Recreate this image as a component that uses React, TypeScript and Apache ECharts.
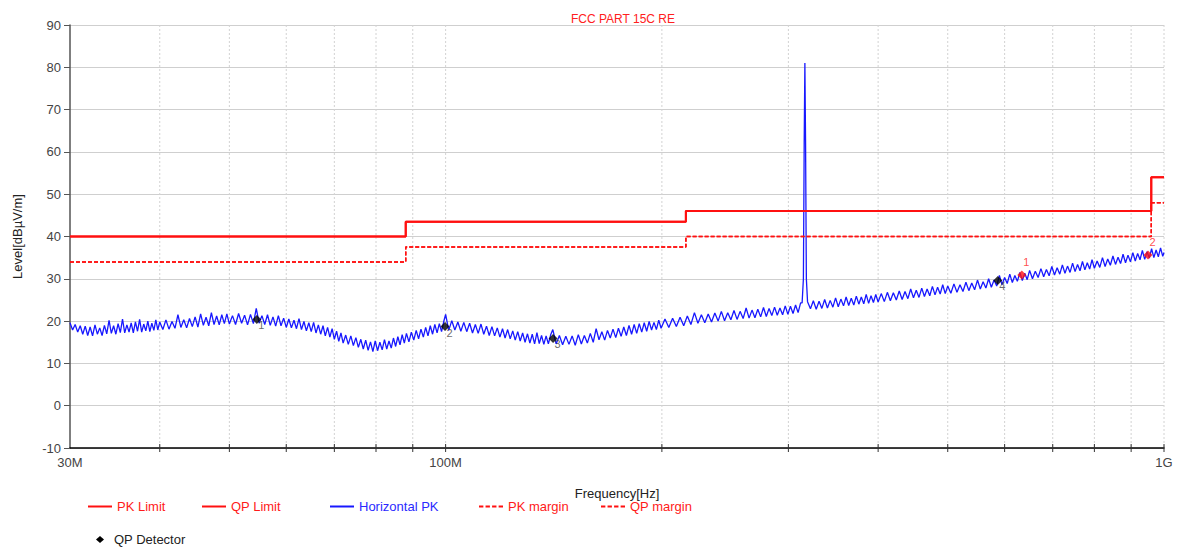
import React, { useEffect, useRef } from 'react';
import * as echarts from 'echarts';

const FONT = 'Liberation Sans, Arial, sans-serif';
const chartTitle = 'FCC PART 15C RE';
const yMin = -10;
const yMax = 90;
const yStep = 10;
const xMinMHz = 30;
const xMaxMHz = 1000;
const xTickValues = [30, 100, 1000];
const xTickLabels = ['30M', '100M', '1G'];
const gridFreqs = [40, 50, 60, 70, 80, 90, 100, 200, 300, 400, 500, 600, 700, 800, 900, 1000];

const limitEdges = [30, 88, 216, 960, 1000];
const pkLimit = [40, 43.5, 46, 54];
const qpLimit = [40, 43.5, 46, 54];
const pkMargin = [34, 37.5, 40, 48];
const qpMargin = [34, 37.5, 40, 48];

const horizontalPK: [number, number][] = [
  [30, 19.6], [30.25, 17.9], [30.5, 19.2], [30.75, 17.4], [31, 18.9], [31.25, 16.9], [31.5, 18.8], [31.75, 16.6], [32, 18.6], [32.25, 16.5],
  [32.5, 19.1], [32.75, 16.9], [33, 18.4], [33.25, 16.6], [33.5, 19.0], [33.75, 17.0], [34, 20.2], [34.25, 17.1], [34.5, 18.9], [34.75, 16.9],
  [35, 19.4], [35.25, 17.3], [35.5, 20.5], [35.75, 17.2], [36, 19.1], [36.25, 17.4], [36.5, 19.6], [36.75, 17.2], [37, 19.8], [37.25, 17.6],
  [37.5, 20.4], [37.75, 17.4], [38, 19.3], [38.25, 17.7], [38.5, 20.0], [38.75, 17.5], [39, 19.5], [39.25, 17.8], [39.5, 20.3], [39.75, 17.9],
  [40, 19.8], [40.4, 18.0], [40.8, 20.3], [41.2, 18.1], [41.6, 19.9], [42, 18.3], [42.4, 21.5], [42.8, 18.5], [43.2, 20.3], [43.6, 18.4],
  [44, 20.6], [44.4, 18.7], [44.8, 21.0], [45.2, 18.6], [45.6, 21.7], [46, 19.0], [46.4, 20.9], [46.8, 18.9], [47.2, 22.0], [47.6, 19.2],
  [48, 21.2], [48.4, 19.1], [48.8, 21.5], [49.2, 19.4], [49.6, 21.7], [50, 19.3], [50.5, 21.3], [51, 19.2], [51.5, 21.8], [52, 19.5],
  [52.5, 21.4], [53, 19.1], [53.5, 21.6], [54, 19.4], [54.5, 23.0], [55, 19.5], [55.5, 21.3], [56, 19.2], [56.5, 21.5], [57, 19.0],
  [57.5, 21.0], [58, 18.8], [58.5, 21.3], [59, 18.9], [59.5, 20.7], [60, 18.5], [60.5, 20.5], [61, 18.4], [61.5, 20.2], [62, 18.2],
  [62.5, 20.6], [63, 18.0], [63.5, 19.9], [64, 17.7], [64.5, 19.6], [65, 17.5], [65.5, 19.7], [66, 17.2], [66.5, 19.1], [67, 16.9],
  [67.5, 18.9], [68, 16.5], [68.5, 18.5], [69, 16.2], [69.5, 18.2], [70, 15.7], [70.5, 17.6], [71, 15.2], [71.5, 17.2], [72, 14.8],
  [72.6, 16.7], [73.2, 14.5], [73.8, 16.5], [74.4, 14.2], [75, 16.1], [75.6, 13.8], [76.2, 15.7], [76.8, 13.4], [77.4, 15.5], [78, 13.1],
  [78.6, 15.1], [79.2, 12.8], [79.8, 15.3], [80.4, 13.0], [81, 15.0], [81.6, 13.2], [82.2, 15.6], [82.8, 13.4], [83.4, 15.3], [84, 13.6],
  [84.6, 16.0], [85.2, 14.0], [85.8, 16.3], [86.4, 14.4], [87, 16.8], [87.6, 14.8], [88.2, 17.1], [88.9, 15.1], [89.6, 17.4], [90.3, 15.5],
  [91, 17.8], [91.7, 15.8], [92.4, 18.1], [93.1, 16.2], [93.8, 18.5], [94.5, 16.5], [95.2, 18.9], [95.9, 16.9], [96.6, 19.2], [97.3, 17.2],
  [98, 19.4], [98.7, 17.5], [99.4, 19.9], [100, 21.6], [101, 17.8], [102, 20.1], [103, 17.9], [104, 19.8], [105, 17.6], [106, 19.7],
  [107, 17.5], [108, 19.5], [109, 17.2], [110, 19.2], [111, 17.1], [112, 19.3], [113, 16.9], [114, 18.8], [115, 16.6], [116, 18.7],
  [117, 16.5], [118, 18.4], [119, 16.2], [120, 18.2], [121, 16.0], [122, 18.0], [123, 15.8], [124, 17.7], [125, 15.5], [126, 17.5],
  [127, 15.3], [128, 17.2], [129, 15.0], [130, 17.0], [131, 14.8], [132, 16.9], [133, 14.6], [134, 17.3], [135, 14.7], [136, 16.6],
  [137, 14.5], [138, 16.5], [139, 14.6], [140, 16.7], [141, 18.0], [142.5, 14.6], [144, 16.6], [145.5, 14.4], [147, 16.4], [148.5, 14.5],
  [150, 16.5], [151.5, 14.3], [153, 16.8], [154.5, 14.6], [156, 16.6], [157.5, 14.8], [159, 17.1], [160.5, 15.0], [162, 18.2], [163.5, 15.6],
  [165, 17.5], [166.5, 15.5], [168, 17.8], [169.5, 16.0], [171, 18.1], [172.5, 16.1], [174, 18.3], [175.5, 16.4], [177, 18.6], [178.5, 16.6],
  [180, 19.0], [181.5, 16.9], [183, 19.2], [184.5, 17.1], [186, 19.4], [187.5, 17.4], [189, 19.6], [190.5, 17.6], [192, 19.9], [193.5, 17.9],
  [195, 19.7], [196.5, 18.0], [198, 20.2], [199.5, 18.3], [202, 20.5], [204.5, 18.5], [207, 20.7], [209.5, 18.7], [212, 20.9], [214.5, 18.9],
  [217, 21.2], [219.5, 19.2], [222, 22.0], [224.5, 19.5], [227, 21.5], [229.5, 19.6], [232, 21.7], [234.5, 19.8], [237, 21.9], [239.5, 20.0],
  [242, 22.3], [244.5, 20.1], [247, 22.0], [249.5, 20.3], [252, 22.5], [254.5, 20.4], [257, 22.3], [259.5, 20.6], [262, 23.1], [264.5, 20.7],
  [267, 22.6], [269.5, 20.8], [272, 22.8], [274.5, 21.0], [277, 23.2], [279.5, 21.1], [282, 23.0], [284.5, 21.3], [287, 23.3], [289.5, 21.4],
  [292, 23.1], [294.5, 21.5], [297, 23.6], [299.5, 21.6], [302, 23.5], [304.5, 21.8], [307, 23.8], [309.5, 22.0], [312, 24.3], [313.5, 24.3],
  [314.8, 30], [315.6, 62], [316.3, 81], [317, 62], [317.8, 30], [319, 24.6],
  [322, 22.9], [325, 24.8], [328, 22.8], [331, 24.7], [334, 23.0], [337, 25.1], [340, 23.1], [343, 24.9], [346, 23.3], [349, 25.5],
  [352, 23.4], [355, 25.2], [358, 23.6], [361, 25.7], [364, 23.7], [367, 25.4], [370, 23.8], [373, 25.9], [376, 24.0], [379, 25.7],
  [382, 24.1], [385, 26.3], [388, 24.2], [391, 26.0], [394, 24.4], [397, 26.3], [400, 24.5], [404, 26.5], [408, 24.6], [412, 26.8],
  [416, 24.8], [420, 26.7], [424, 25.0], [428, 27.1], [432, 25.1], [436, 27.0], [440, 25.3], [444, 27.6], [448, 25.5], [452, 27.3],
  [456, 25.6], [460, 27.8], [464, 25.8], [468, 27.6], [472, 26.0], [476, 28.2], [480, 26.2], [484, 28.0], [488, 26.4], [492, 28.6],
  [496, 26.5], [500, 28.3], [505, 26.6], [510, 28.8], [515, 26.8], [520, 28.6], [525, 27.0], [530, 29.2], [535, 27.2], [540, 29.0],
  [545, 27.4], [550, 29.7], [555, 27.6], [560, 29.3], [565, 27.8], [570, 30.0], [575, 28.0], [580, 29.7], [585, 28.3], [590, 30.8],
  [595, 28.6], [600, 30.3], [605, 28.9], [610, 31.1], [615, 29.1], [620, 30.8], [625, 29.4], [630, 31.5], [635, 29.6], [640, 31.3],
  [645, 29.8], [650, 32.0], [656, 30.0], [662, 31.8], [668, 30.3], [674, 32.4], [680, 30.5], [686, 32.2], [692, 30.7], [698, 32.9],
  [704, 30.9], [710, 32.6], [716, 31.1], [722, 33.3], [728, 31.3], [734, 33.0], [740, 31.5], [746, 33.7], [752, 31.7], [758, 33.4],
  [764, 31.9], [770, 34.1], [776, 32.1], [782, 33.8], [788, 32.3], [794, 34.5], [800, 32.5], [807, 34.2], [814, 32.7], [821, 35.0],
  [828, 32.9], [835, 34.7], [842, 33.2], [849, 35.4], [856, 33.4], [863, 35.1], [870, 33.6], [877, 35.8], [884, 33.8], [891, 35.6],
  [898, 34.0], [905, 36.2], [912, 34.2], [919, 36.0], [926, 34.5], [933, 36.7], [940, 34.6], [947, 36.4], [954, 34.9], [961, 37.1],
  [968, 35.0], [975, 36.8], [982, 35.2], [989, 37.3], [996, 35.3], [1000, 36.2],
];

const qpDetector: [number, number][] = [[54.6, 20.4], [99.8, 18.7], [141.1, 15.9], [587, 29.6]];
const qpDetectorLabels = ['1', '2', '3', '4'];
const pkPeaks: [number, number][] = [[634, 30.9], [950, 35.6]];
const pkPeakLabels = ['1', '2'];

const SOLID_ICON = 'rect';
const DASH_ICON = 'path://M0,0h4v2h-4zM6,0h4v2h-4zM12,0h4v2h-4zM18,0h4v2h-4z';

const legendItems = [
  { name: 'PK Limit', left: 83, top: 495, color: '#ff1a1a', iconColor: '#ff1010', icon: SOLID_ICON },
  { name: 'QP Limit', left: 197, top: 495, color: '#ff1a1a', iconColor: '#ff1010', icon: SOLID_ICON },
  { name: 'Horizontal PK', left: 325, top: 495, color: '#2a2aff', iconColor: '#1818ff', icon: SOLID_ICON },
  { name: 'PK margin', left: 474, top: 495, color: '#ff1a1a', iconColor: '#ff1010', icon: DASH_ICON },
  { name: 'QP margin', left: 596, top: 495, color: '#ff1a1a', iconColor: '#ff1010', icon: DASH_ICON },
  { name: 'QP Detector', left: 91, top: 528, color: '#222222', iconColor: '#000000', icon: 'diamond' },
];

function stepLine(edges: number[], levels: number[]): [number, number][] {
  const pts: [number, number][] = [];
  levels.forEach((v, i) => {
    pts.push([edges[i], v]);
    pts.push([edges[i + 1], v]);
  });
  return pts;
}

export default function App() {
  const ref = useRef<HTMLDivElement>(null);
  useEffect(() => {
    if (!ref.current) return;
    const chart = echarts.init(ref.current, undefined, { renderer: 'svg' });
    const option: any = {
      animation: false,
      textStyle: { fontFamily: FONT },
      title: {
        text: chartTitle,
        left: 618,
        top: 8,
        textAlign: 'center',
        textStyle: { color: '#ff2020', fontSize: 12, fontWeight: 'normal', fontFamily: FONT },
      },
      legend: legendItems.map((it) => {
        const isDiamond = it.icon === 'diamond';
        return {
          data: [
            {
              name: it.name,
              icon: it.icon,
              itemStyle: { color: it.iconColor, borderColor: it.iconColor, borderWidth: 0, opacity: 1 },
            },
          ],
          left: it.left,
          top: it.top,
          itemWidth: isDiamond ? 8 : 24,
          itemHeight: isDiamond ? 7 : 2,
          symbolKeepAspect: isDiamond,
          selectedMode: false,
          textStyle: {
            color: it.color,
            fontSize: 13,
            fontFamily: FONT,
            padding: isDiamond ? [0, 0, 0, 5] : 0,
          },
        };
      }),
      grid: { left: 70, right: 16, top: 25, bottom: 99, containLabel: false },
      xAxis: {
        type: 'log',
        logBase: 10,
        min: xMinMHz,
        max: xMaxMHz,
        name: 'Frequency[Hz]',
        nameLocation: 'middle',
        nameGap: 39,
        nameTextStyle: { color: '#222', fontSize: 13, fontFamily: FONT },
        axisLine: { show: true, onZero: false, lineStyle: { color: '#000', width: 1.5 } },
        axisTick: { show: false },
        splitLine: { show: false },
        axisLabel: {
          color: '#444',
          fontSize: 13,
          fontFamily: FONT,
          margin: 8,
          showMinLabel: true,
          showMaxLabel: true,
          formatter: (v: number) => {
            const idx = xTickValues.findIndex((t) => Math.abs(t - v) / t < 1e-6);
            return idx >= 0 ? xTickLabels[idx] : '';
          },
        },
      },
      yAxis: {
        type: 'value',
        min: yMin,
        max: yMax,
        interval: yStep,
        name: 'Level[dBµV/m]',
        nameLocation: 'middle',
        nameGap: 46,
        nameTextStyle: { color: '#222', fontSize: 13, fontFamily: FONT },
        axisLine: { show: true, onZero: false, lineStyle: { color: '#555', width: 1.5 } },
        axisTick: { show: true, length: 6, lineStyle: { color: '#555' } },
        axisLabel: { color: '#444', fontSize: 13, fontFamily: FONT, margin: 9 },
        splitLine: { show: true, lineStyle: { color: '#cfcfcf', width: 1 } },
      },
      series: [
        {
          type: 'custom',
          name: 'vgrid',
          silent: true,
          z: 1,
          data: gridFreqs.map((f) => [f, yMin]),
          encode: { x: 0, y: 1 },
          renderItem: (_params: any, api: any) => {
            const f = api.value(0);
            const top = api.coord([f, yMax]);
            const bot = api.coord([f, yMin]);
            return {
              type: 'group',
              children: [
                {
                  type: 'line',
                  shape: { x1: top[0], y1: top[1], x2: bot[0], y2: bot[1] },
                  style: { stroke: '#d2d2d2', lineWidth: 1, lineDash: [2, 2] },
                },
                {
                  type: 'line',
                  shape: { x1: bot[0], y1: bot[1] - 4, x2: bot[0], y2: bot[1] + 4 },
                  style: { stroke: '#333', lineWidth: 1 },
                },
              ],
            };
          },
        },
        {
          name: 'Horizontal PK',
          type: 'line',
          data: horizontalPK,
          symbol: 'none',
          showSymbol: false,
          z: 3,
          lineStyle: { color: '#1818ff', width: 1.3 },
          itemStyle: { color: '#1818ff' },
        },
        {
          name: 'PK Limit',
          type: 'line',
          data: stepLine(limitEdges, pkLimit),
          symbol: 'none',
          z: 4,
          lineStyle: { color: '#ff1010', width: 2 },
          itemStyle: { color: '#ff1010' },
        },
        {
          name: 'QP Limit',
          type: 'line',
          data: stepLine(limitEdges, qpLimit),
          symbol: 'none',
          z: 4,
          lineStyle: { color: '#ff1010', width: 2 },
          itemStyle: { color: '#ff1010' },
        },
        {
          name: 'PK margin',
          type: 'line',
          data: stepLine(limitEdges, pkMargin),
          symbol: 'none',
          z: 4,
          lineStyle: { color: '#ff1010', width: 1.5, type: [4, 2] },
          itemStyle: { color: '#ff1010' },
        },
        {
          name: 'QP margin',
          type: 'line',
          data: stepLine(limitEdges, qpMargin),
          symbol: 'none',
          z: 4,
          lineStyle: { color: '#ff1010', width: 1.5, type: [4, 2] },
          itemStyle: { color: '#ff1010' },
        },
        {
          name: 'QP Detector',
          type: 'scatter',
          data: qpDetector,
          symbol: 'diamond',
          symbolSize: 9,
          z: 6,
          itemStyle: { color: '#000' },
          label: {
            show: true,
            position: [6, 5],
            color: '#444',
            fontSize: 11,
            fontFamily: FONT,
            formatter: (p: any) => qpDetectorLabels[p.dataIndex],
          },
        },
        {
          name: 'PK Peak',
          type: 'scatter',
          data: pkPeaks,
          symbol: 'diamond',
          symbolSize: 9,
          z: 6,
          itemStyle: { color: '#ff1010' },
          label: {
            show: true,
            position: [6, -14],
            color: '#ff2020',
            fontSize: 11,
            fontFamily: FONT,
            formatter: (p: any) => pkPeakLabels[p.dataIndex],
          },
        },
      ],
    };
    chart.setOption(option);
    return () => chart.dispose();
  }, []);
  return (
    <div
      ref={ref}
      style={{ position: 'fixed', left: 0, top: 0, width: 1180, height: 547, background: '#fff' }}
    />
  );
}
